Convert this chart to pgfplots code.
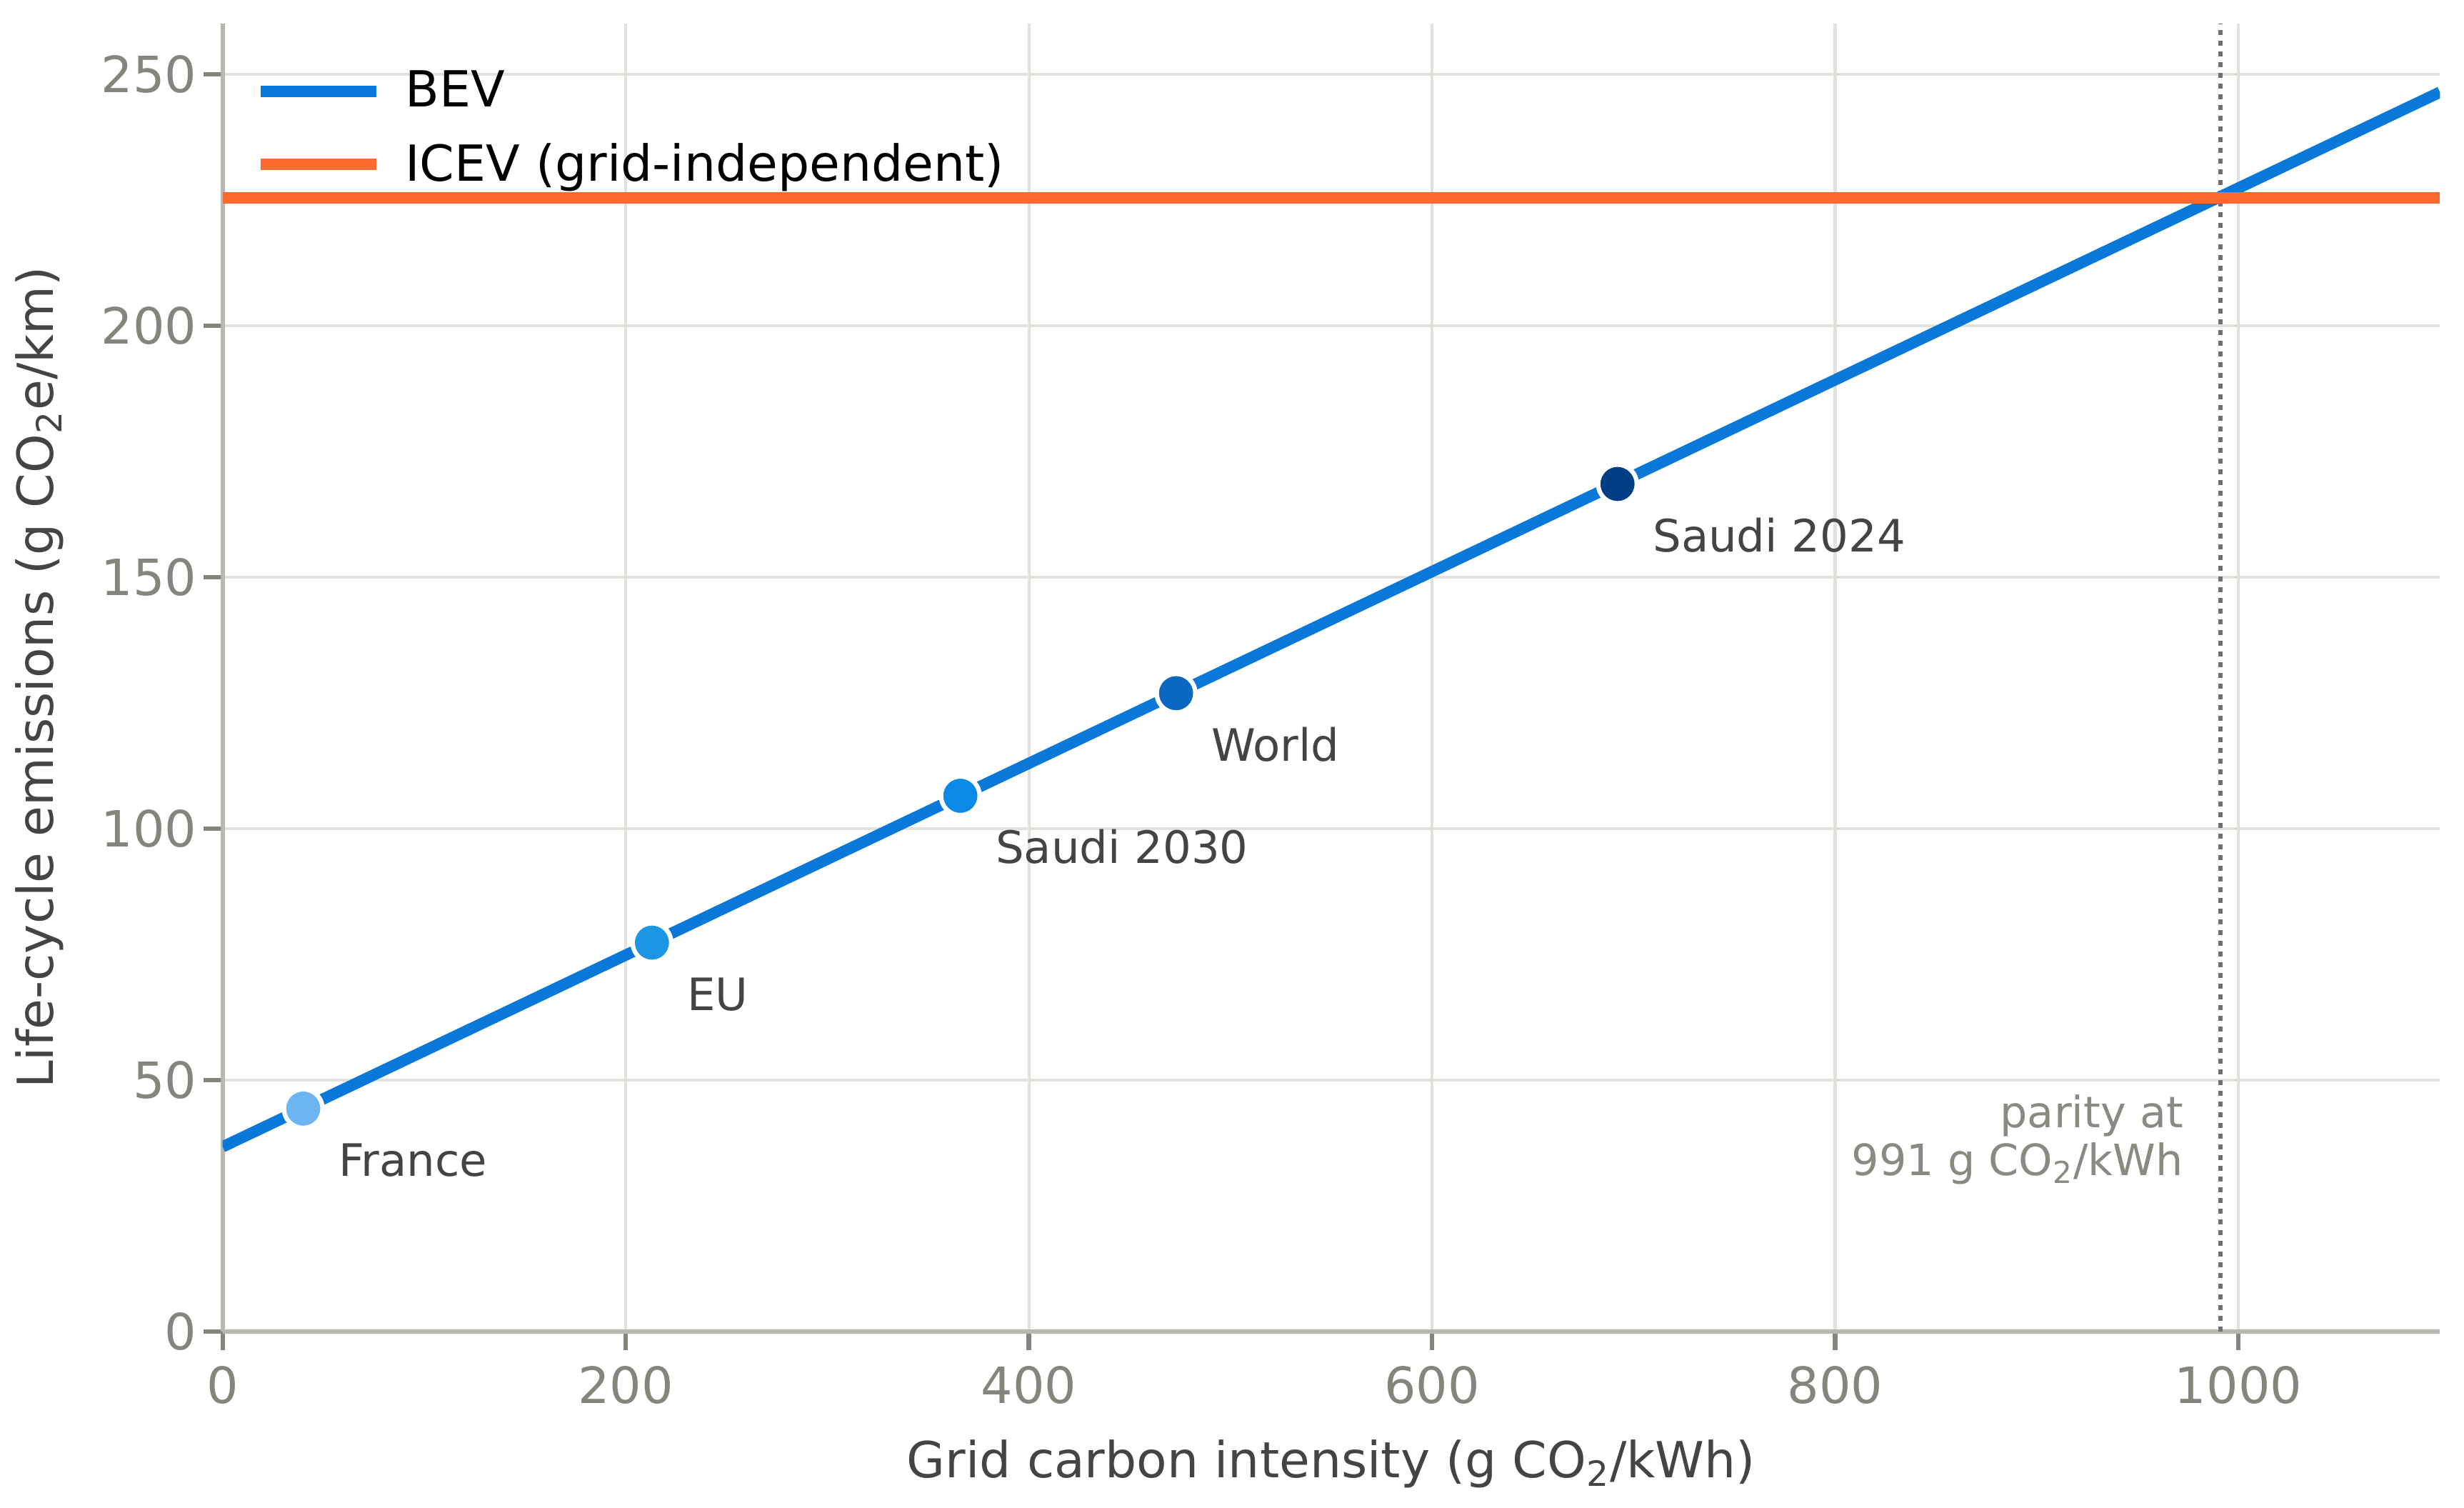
\documentclass[border=0pt]{standalone}
\usepackage{fontspec}
\setmainfont{DejaVu Sans}
\usepackage{pgfplots}
\pgfplotsset{compat=1.18}
\definecolor{bevc}{HTML}{0A78D8}
\definecolor{icevc}{HTML}{FF6B2C}
\definecolor{gridc}{HTML}{E2E2DA}
\definecolor{spinec}{HTML}{B8B8B0}
\definecolor{tickc}{HTML}{85857D}
\definecolor{labc}{HTML}{444444}
\definecolor{parc}{HTML}{8A8A82}
\definecolor{dotc}{HTML}{707070}
\definecolor{frc}{HTML}{6CB4F2}
\definecolor{euc}{HTML}{1E96E6}
\definecolor{sa30c}{HTML}{0A8AE6}
\definecolor{wlc}{HTML}{0A68C0}
\definecolor{sa24c}{HTML}{003D85}
\begin{document}
\begin{tikzpicture}
\useasboundingbox (-74.8pt,-59.3pt) rectangle (753.2pt,447.3pt);
\begin{axis}[
  at={(0,0)}, anchor=south west,
  scale only axis, width=745.1pt, height=439.3pt,
  xmin=0, xmax=1100, ymin=0, ymax=260,
  axis x line*=bottom, axis y line*=left,
  axis line style={color=spinec, line width=1.5pt},
  xtick={0,200,...,1000}, ytick={0,50,...,250},
  tick align=outside, major tick length=6.3pt,
  tick style={color=tickc, line width=1.5pt},
  grid=major, grid style={color=gridc, line width=1pt},
  /pgf/number format/assume math mode=true,
  /pgf/number format/1000 sep={},
  ticklabel style={color=tickc, font=\fontsize{16.8}{19}\selectfont},
  xticklabel style={yshift=-1.9pt},
  yticklabel style={xshift=1.1pt},
  xlabel={Grid carbon intensity (g CO\textsubscript{2}/kWh)},
  ylabel={Life-cycle emissions (g CO\textsubscript{2}e/km)},
  xlabel style={at={(axis description cs:0.5,-0.1015)}, anchor=center, color=labc, font=\fontsize{16.7}{19}\selectfont},
  ylabel style={at={(axis description cs:-0.0825,0.5)}, anchor=center, color=labc, font=\fontsize{16.7}{19}\selectfont},
  legend style={at={(axis description cs:0.0142,0.969)}, anchor=north west, draw=none, fill=none,
    font=\fontsize{16.7}{19}\selectfont, row sep=6.7pt, inner sep=0pt,
    /tikz/every odd column/.append style={column sep=5.8pt}},
  legend cell align=left,
  legend image code/.code={\draw[#1, line width=3.8pt] (0pt,0pt) -- (39pt,0pt);},
]
\addplot[color=dotc, line width=1.5pt, dash pattern=on 1.6pt off 2pt, forget plot] coordinates {(991,0) (991,260)};
\addplot[color=bevc, line width=3.8pt] coordinates {(0,36.7) (1100,246.4)};
\addlegendentry{BEV}
\addplot[color=icevc, line width=3.8pt] coordinates {(0,225.4) (1100,225.4)};
\addlegendentry{ICEV (grid-independent)}
\addplot[only marks, mark=*, mark size=6.5pt, mark options={fill=frc, draw=white, line width=1.5pt}, forget plot] coordinates {(40,44.3)};
\addplot[only marks, mark=*, mark size=6.5pt, mark options={fill=euc, draw=white, line width=1.5pt}, forget plot] coordinates {(213,77.3)};
\addplot[only marks, mark=*, mark size=6.5pt, mark options={fill=sa30c, draw=white, line width=1.5pt}, forget plot] coordinates {(366,106.5)};
\addplot[only marks, mark=*, mark size=6.5pt, mark options={fill=wlc, draw=white, line width=1.5pt}, forget plot] coordinates {(473,126.9)};
\addplot[only marks, mark=*, mark size=6.5pt, mark options={fill=sa24c, draw=white, line width=1.5pt}, forget plot] coordinates {(692,168.5)};
\begin{scope}[every node/.style={anchor=base west, color=labc, font=\fontsize{15}{18}\selectfont, inner sep=0pt, xshift=11.7pt, yshift=-22.8pt}]
\node at (axis cs:40,44.3) {France};
\node at (axis cs:213,77.3) {EU};
\node at (axis cs:366,106.5) {Saudi 2030};
\node at (axis cs:473,126.9) {World};
\node at (axis cs:692,168.5) {Saudi 2024};
\end{scope}
\node[anchor=north east, align=right, inner sep=0pt, color=parc, font=\fontsize{14.5}{16.2}\selectfont] at (axis cs:973,47.2) {parity at\\991 g CO\textsubscript{2}/kWh};
\end{axis}
\end{tikzpicture}
\end{document}
